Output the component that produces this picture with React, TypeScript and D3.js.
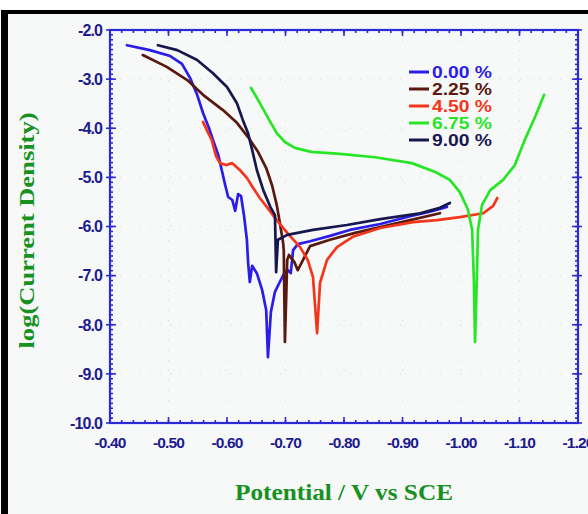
import * as d3 from "d3";
import { useEffect } from "react";

type Pt = [number, number]; // [potential V, log current density]

const seriesNames = ["0.00 %", "2.25 %", "4.50 %", "6.75 %", "9.00 %"];
const seriesColors = ["#2b1de8", "#5a190e", "#f3361b", "#26e626", "#17174f"];

const blue: Pt[] = [
  [-0.429, -2.31], [-0.468, -2.41], [-0.503, -2.53], [-0.523, -2.69], [-0.537, -2.98],
  [-0.549, -3.32], [-0.559, -3.69], [-0.569, -3.99], [-0.576, -4.24], [-0.585, -4.54],
  [-0.591, -4.85], [-0.597, -5.16], [-0.602, -5.4], [-0.609, -5.46], [-0.614, -5.68],
  [-0.619, -5.34], [-0.624, -5.38], [-0.629, -5.77], [-0.634, -6.27], [-0.636, -6.72],
  [-0.639, -7.13], [-0.643, -6.8], [-0.651, -6.95], [-0.66, -7.29], [-0.667, -7.7],
  [-0.67, -8.66], [-0.675, -7.74], [-0.682, -7.33], [-0.691, -7.11], [-0.699, -6.93],
  [-0.704, -6.89], [-0.709, -6.95], [-0.713, -6.48], [-0.721, -6.36], [-0.742, -6.3],
  [-0.776, -6.19], [-0.81, -6.07], [-0.862, -5.95], [-0.913, -5.79], [-0.947, -5.7],
  [-0.976, -5.6],
];

const brown: Pt[] = [
  [-0.456, -2.51], [-0.497, -2.75], [-0.532, -3.02], [-0.559, -3.32], [-0.593, -3.63],
  [-0.617, -3.89], [-0.636, -4.18], [-0.653, -4.48], [-0.667, -4.81], [-0.677, -5.16],
  [-0.685, -5.56], [-0.691, -5.97], [-0.696, -6.34], [-0.697, -6.48], [-0.699, -8.35],
  [-0.703, -6.68], [-0.706, -6.58], [-0.715, -6.72], [-0.721, -6.89], [-0.73, -6.68],
  [-0.742, -6.4], [-0.776, -6.27], [-0.819, -6.13], [-0.862, -6.01], [-0.913, -5.87],
  [-0.964, -5.73],
];

const red: Pt[] = [
  [-0.559, -3.87], [-0.568, -4.1], [-0.574, -4.24], [-0.581, -4.56], [-0.588, -4.71],
  [-0.598, -4.75], [-0.609, -4.71], [-0.622, -4.85], [-0.634, -5.01], [-0.644, -5.2],
  [-0.656, -5.42], [-0.668, -5.6], [-0.685, -5.87], [-0.703, -6.13], [-0.725, -6.42],
  [-0.738, -6.68], [-0.747, -7.03], [-0.754, -8.17], [-0.759, -7.15], [-0.771, -6.68],
  [-0.788, -6.42], [-0.815, -6.21], [-0.862, -6.03], [-0.918, -5.91], [-0.959, -5.87],
  [-0.998, -5.81], [-1.038, -5.73], [-1.055, -5.58], [-1.062, -5.42],
];

const green: Pt[] = [
  [-0.641, -3.18], [-0.65, -3.36], [-0.66, -3.57], [-0.674, -3.87], [-0.685, -4.1],
  [-0.699, -4.28], [-0.716, -4.4], [-0.744, -4.48], [-0.793, -4.52], [-0.853, -4.59],
  [-0.916, -4.71], [-0.956, -4.89], [-0.981, -5.05], [-0.998, -5.3], [-1.012, -5.66],
  [-1.019, -6.07], [-1.022, -7.09], [-1.024, -8.35], [-1.027, -7.09], [-1.029, -6.07],
  [-1.036, -5.56], [-1.05, -5.26], [-1.072, -5.05], [-1.092, -4.75], [-1.109, -4.24],
  [-1.128, -3.73], [-1.142, -3.32],
];

const navy: Pt[] = [
  [-0.482, -2.31], [-0.515, -2.41], [-0.549, -2.61], [-0.576, -2.88], [-0.6, -3.16],
  [-0.617, -3.49], [-0.627, -3.83], [-0.636, -4.1], [-0.643, -4.44], [-0.651, -4.85],
  [-0.662, -5.26], [-0.674, -5.6], [-0.682, -5.77], [-0.684, -6.93], [-0.687, -6.27],
  [-0.703, -6.17], [-0.747, -6.07], [-0.805, -5.97], [-0.862, -5.85], [-0.93, -5.73],
  [-0.964, -5.62], [-0.981, -5.52],
];

const seriesData = [blue, brown, red, green, navy];

const xMajor = d3.range(0, 9).map((i) => -0.4 - i * 0.1);
const xMinor = d3.range(0, 41).map((i) => -0.4 - i * 0.02);
const yMajor = d3.range(0, 9).map((i) => -2 - i);
const yMinor = d3.range(0, 81).map((i) => -2 - i * 0.1);

const W = 588;
const H = 514;
const AXIS = "#2c2ad2";
const TICK_TEXT = "#1d1b8e";
const TITLE = "#17911f";

// d3.format gives a unicode minus; the chart uses a plain hyphen
const hyphen = (s: string) => s.replace("\u2212", "-");

export default function App() {
  useEffect(() => {
    document.body.style.margin = "0";
  }, []);

  const x = d3.scaleLinear().domain([-0.4, -1.2]).range([110, 578]);
  const y = d3.scaleLinear().domain([-2, -10]).range([30, 423]);
  const [x0, x1] = x.range();
  const [y0, y1] = y.range();

  const line = d3
    .line<Pt>()
    .x((d) => x(d[0]))
    .y((d) => y(d[1]));

  const fx = d3.format(".2f");
  const fy = d3.format(".1f");

  return (
    <svg width={W} height={H} style={{ display: "block" }}>
      <rect x={0} y={0} width={W} height={H} fill="#ffffff" />
      <rect x={1} y={10} width={W} height={H} fill="#000000" />
      <rect x={8} y={14} width={W} height={H} fill="#f7f8f8" />

      {/* faint grid */}
      <g stroke="#dcdcd4" strokeWidth={1} strokeDasharray="1,9">
        {xMajor.slice(1, -1).map((v) => (
          <line key={"gx" + v} x1={x(v)} x2={x(v)} y1={y0} y2={y1} />
        ))}
        {yMajor.slice(1, -1).map((v) => (
          <line key={"gy" + v} x1={x0} x2={x1} y1={y(v)} y2={y(v)} />
        ))}
      </g>

      {/* series */}
      {seriesData.map((s, i) => (
        <path
          key={seriesNames[i]}
          d={line(s) ?? ""}
          fill="none"
          stroke={seriesColors[i]}
          strokeWidth={2.7}
          strokeLinejoin="round"
          strokeLinecap="round"
        />
      ))}

      {/* axes frame */}
      <rect x={x0} y={y0} width={x1 - x0} height={y1 - y0} fill="none" stroke={AXIS} strokeWidth={2.2} />

      <g stroke={AXIS} strokeWidth={1.6}>
        {xMinor.map((v) => (
          <g key={"xm" + v}>
            <line x1={x(v)} x2={x(v)} y1={y1} y2={y1 - 3} />
            <line x1={x(v)} x2={x(v)} y1={y0} y2={y0 + 3} />
          </g>
        ))}
        {xMajor.map((v) => (
          <g key={"xM" + v}>
            <line x1={x(v)} x2={x(v)} y1={y1 + 1} y2={y1 - 6} />
            <line x1={x(v)} x2={x(v)} y1={y0 - 1} y2={y0 + 6} />
          </g>
        ))}
        {yMinor.map((v) => (
          <g key={"ym" + v}>
            <line x1={x0} x2={x0 + 3} y1={y(v)} y2={y(v)} />
            <line x1={x1} x2={x1 - 3} y1={y(v)} y2={y(v)} />
          </g>
        ))}
        {yMajor.map((v) => (
          <g key={"yM" + v}>
            <line x1={x0 - 4} x2={x0 + 6} y1={y(v)} y2={y(v)} />
            <line x1={x1 + 4} x2={x1 - 6} y1={y(v)} y2={y(v)} />
          </g>
        ))}
      </g>

      {/* tick labels */}
      <g
        fill={TICK_TEXT}
        fontFamily="'Liberation Sans', Arial, sans-serif"
        fontWeight="bold"
        letterSpacing={-0.9}
      >
        {yMajor.map((v) => (
          <text key={"ty" + v} x={x0 - 8} y={y(v)} dy="0.36em" textAnchor="end" fontSize={16}>
            {hyphen(fy(v))}
          </text>
        ))}
        {xMajor.map((v) => (
          <text key={"tx" + v} x={x(v)} y={y1 + 25} textAnchor="middle" fontSize={15.5}>
            {hyphen(fx(v))}
          </text>
        ))}
      </g>

      {/* axis titles */}
      <text
        x={(x0 + x1) / 2}
        y={500}
        textAnchor="middle"
        fill={TITLE}
        fontFamily="'Liberation Serif', 'Times New Roman', serif"
        fontWeight="bold"
        fontSize={24}
        textLength={218}
        lengthAdjust="spacingAndGlyphs"
      >
        Potential / V vs SCE
      </text>
      <text
        transform={`translate(34, ${(y0 + y1) / 2 + 4}) rotate(-90)`}
        textAnchor="middle"
        fill={TITLE}
        fontFamily="'Liberation Serif', 'Times New Roman', serif"
        fontWeight="bold"
        fontSize={22}
        textLength={236}
        lengthAdjust="spacingAndGlyphs"
      >
        log(Current Density)
      </text>

      {/* legend */}
      <g fontFamily="'Liberation Sans', Arial, sans-serif" fontWeight="bold" fontSize={16}>
        {seriesNames.map((name, i) => {
          const cy = 72 + i * 17;
          return (
            <g key={"lg" + name}>
              <line x1={409} x2={429} y1={cy} y2={cy} stroke={seriesColors[i]} strokeWidth={3} />
              <text x={432} y={cy} dy="0.36em" fill={seriesColors[i]} textLength={60} lengthAdjust="spacingAndGlyphs">
                {name}
              </text>
            </g>
          );
        })}
      </g>
    </svg>
  );
}
